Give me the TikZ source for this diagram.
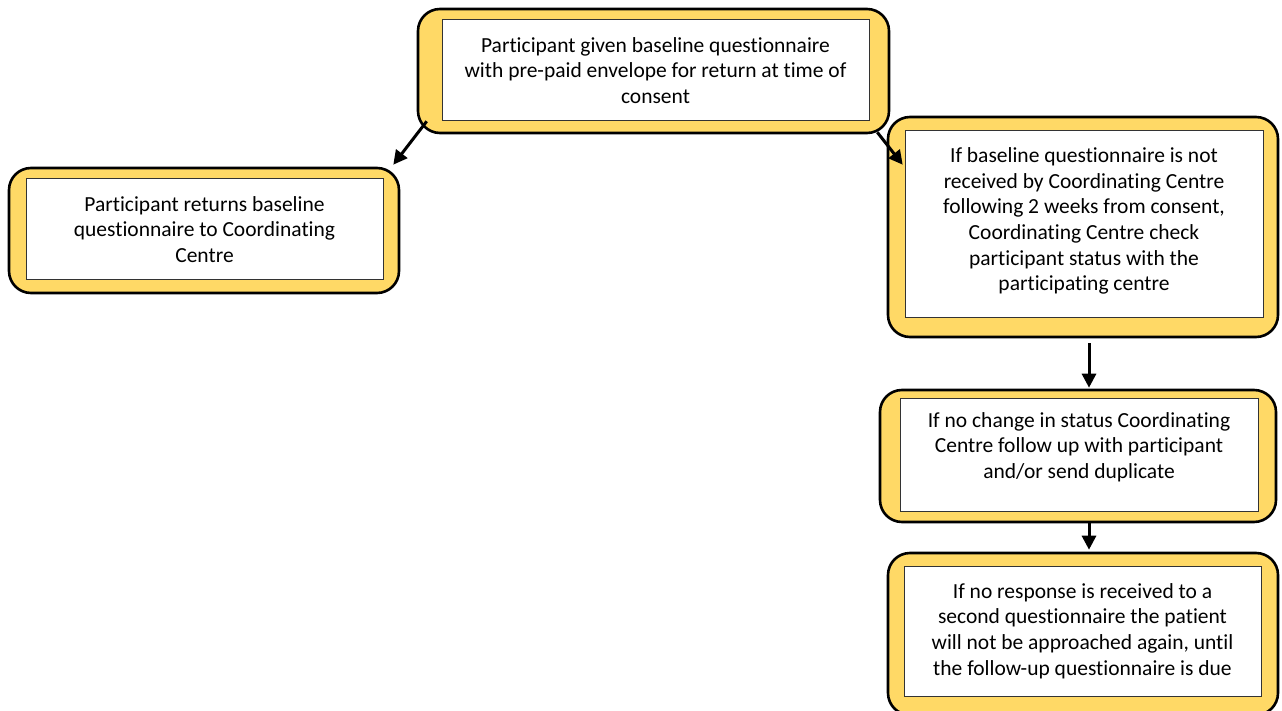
\documentclass[tikz,border=0pt]{standalone}
\usepackage{fontspec}
\setmainfont{Carlito}[Ligatures=NoCommon]
\usetikzlibrary{arrows.meta,calc}
\definecolor{gold}{HTML}{FFD966}
\begin{document}
\begin{tikzpicture}[x=1pt,y=-1pt,
 outer/.style={draw=black, line width=2.6pt, fill=gold, rounded corners=22pt, inner sep=0pt},
 innerbox/.style={draw=black!80, line width=1pt, fill=white, inner sep=0pt},
 txt/.style={align=center, inner sep=0pt, font=\fontsize{21.5}{25.7}\selectfont},
 arr/.style={-{Triangle[length=14pt,width=14pt]}, line width=3pt}]
\useasboundingbox (0,0) rectangle (1282,711);
\begin{scope}
\clip (0,0) rectangle (1282,711);
% top
\node[outer, minimum width=471pt, minimum height=124pt] (o1) at (653.5,71) {};
\node[innerbox, minimum width=427pt, minimum height=101pt] (i1) at (655.5,70.5) {};
\node[txt] (t1) at (i1) {Participant given baseline questionnaire\\with pre-paid envelope for return at time of\\consent};
% left
\node[outer, minimum width=390pt, minimum height=125pt] (o2) at (204,230.5) {};
\node[innerbox, minimum width=357pt, minimum height=101pt] (i2) at (204.5,229.5) {};
\node[txt] (t2) at (i2) {Participant returns baseline\\questionnaire to Coordinating\\Centre};
% right 1
\node[outer, minimum width=390pt, minimum height=220pt] (o3) at (1083,227) {};
\node[innerbox, minimum width=358pt, minimum height=186pt] (i3) at (1084,224) {};
\node[txt] (t3) at (1084,221) {If baseline questionnaire is not\\received by Coordinating Centre\\following 2 weeks from consent,\\Coordinating Centre check\\participant status with the\\participating centre};
% right 2
\node[outer, minimum width=396pt, minimum height=132pt] (o4) at (1078,456) {};
\node[innerbox, minimum width=358pt, minimum height=113pt] (i4) at (1079,454.5) {};
\node[txt] (t4) at (1079,447) {If no change in status Coordinating\\Centre follow up with participant\\and/or send duplicate};
% right 3
\node[outer, minimum width=390pt, minimum height=162pt] (o5) at (1083,634) {};
\node[innerbox, minimum width=357pt, minimum height=130pt] (i5) at (1082.5,631) {};
\node[txt] (t5) at (i5) {If no response is received to a\\second questionnaire the patient\\will not be approached again, until\\the follow-up questionnaire is due};
\end{scope}
% arrows
\draw[arr] ([shift={(10,-13)}]o1.south west) -- ([shift={(-7,-2)}]o2.north east);
\draw[arr] ([shift={(-13,-2)}]o1.south east) -- ([shift={(16,49)}]o3.north west);
\draw[arr] ([shift={(6,5)}]o3.south) -- ([shift={(6,-1)}]o3.south |- o4.north);
\draw[arr] ([shift={(11,0)}]o4.south) -- ([shift={(11,-2)}]o4.south |- o5.north);
\end{tikzpicture}
\end{document}
